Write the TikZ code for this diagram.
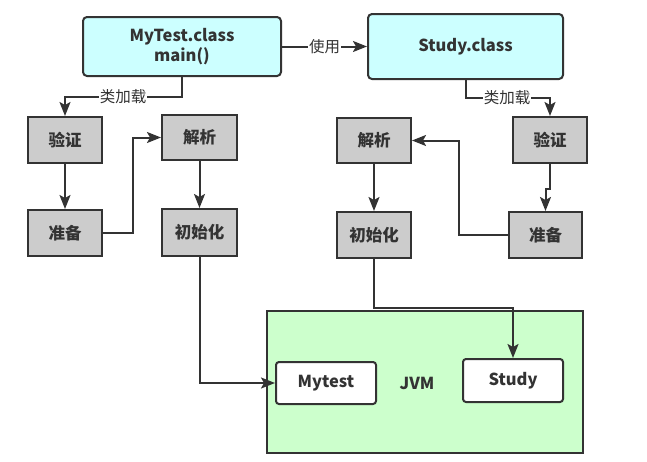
\documentclass[tikz,border=0pt]{standalone}
\usepackage{fontspec}
\setmainfont{Noto Sans CJK SC}
\usetikzlibrary{arrows.meta}
\definecolor{ln}{HTML}{333333}
\definecolor{cyanf}{HTML}{CCFFFF}
\definecolor{greyf}{HTML}{CCCCCC}
\definecolor{greenf}{HTML}{CCFFCC}
\begin{document}
\begin{tikzpicture}[x=1pt,y=-1pt,
  base/.style={draw=ln,line width=2pt,inner sep=0pt,align=center,
    font=\fontsize{16.5}{20}\selectfont\bfseries,text=ln},
  topbox/.style={base,fill=cyanf,rounded corners=4pt},
  stepbox/.style={base,fill=greyf},
  jvmbox/.style={base,fill=greenf},
  whitebox/.style={base,fill=white,rounded corners=3pt,minimum width=100pt},
  arr/.style={draw=ln,line width=2pt,-{Stealth[length=14pt,width=11pt,inset=3pt]}},
  lbl/.style={fill=white,inner sep=1pt,text=ln,font=\fontsize{15.5}{17}\selectfont}
]
\useasboundingbox (0,0) rectangle (647,461);
% top boxes
\node[topbox,minimum width=198pt,minimum height=59pt] (mt) at (182,46.5) {MyTest.class\\main()};
\node[topbox,minimum width=195pt,minimum height=65pt] (st) at (465.5,46.5) {Study.class};
% left steps
\node[stepbox,minimum width=74pt,minimum height=46pt] (lv) at (65,140) {验证};
\node[stepbox,minimum width=74pt,minimum height=46pt] (lz) at (65,233) {准备};
\node[stepbox,minimum width=75pt,minimum height=45pt] (lj) at (199.5,137.5) {解析};
\node[stepbox,minimum width=75pt,minimum height=47pt] (li) at (199.5,232.5) {初始化};
% right steps
\node[stepbox,minimum width=74pt,minimum height=45pt] (rj) at (374,140.5) {解析};
\node[stepbox,minimum width=74pt,minimum height=46pt] (ri) at (374,235) {初始化};
\node[stepbox,minimum width=74pt,minimum height=46pt] (rv) at (550,140) {验证};
\node[stepbox,minimum width=73pt,minimum height=46pt] (rz) at (545.5,235) {准备};
% JVM
\node[jvmbox,minimum width=316pt,minimum height=142pt] (jvm) at (425,382) {};
\node[base,draw=none,fill=none] (jvml) at (417,383) {JVM};
\node[whitebox,minimum height=42pt] (mts) at (326,383) {Mytest};
\node[whitebox,minimum height=43pt] (sts) at (513,380.5) {Study};
% connectors
\draw[arr] (mt.east) -- node[lbl]{使用} (st.west);
\draw[arr] (mt.south) |- (123,97) node[lbl]{类加载} -| (lv.north);
\draw[arr] (st.south) |- (507,98) node[lbl]{类加载} -| (rv.north);
\draw[arr] (lv) -- (lz);
\draw[arr] (lz.east) -- (133,233) |- (lj.west);
\draw[arr] (lj) -- (li);
\draw[arr] (li.south) |- (mts.west);
\draw[arr] (rv.south) -- ++(0,25) -| (rz.north);
\draw[arr] (rz.west) -- (459,235) |- (rj.east);
\draw[arr] (rj) -- (ri);
\draw[arr] (ri.south) -- (374,308) -| (sts.north);
\end{tikzpicture}
\end{document}
